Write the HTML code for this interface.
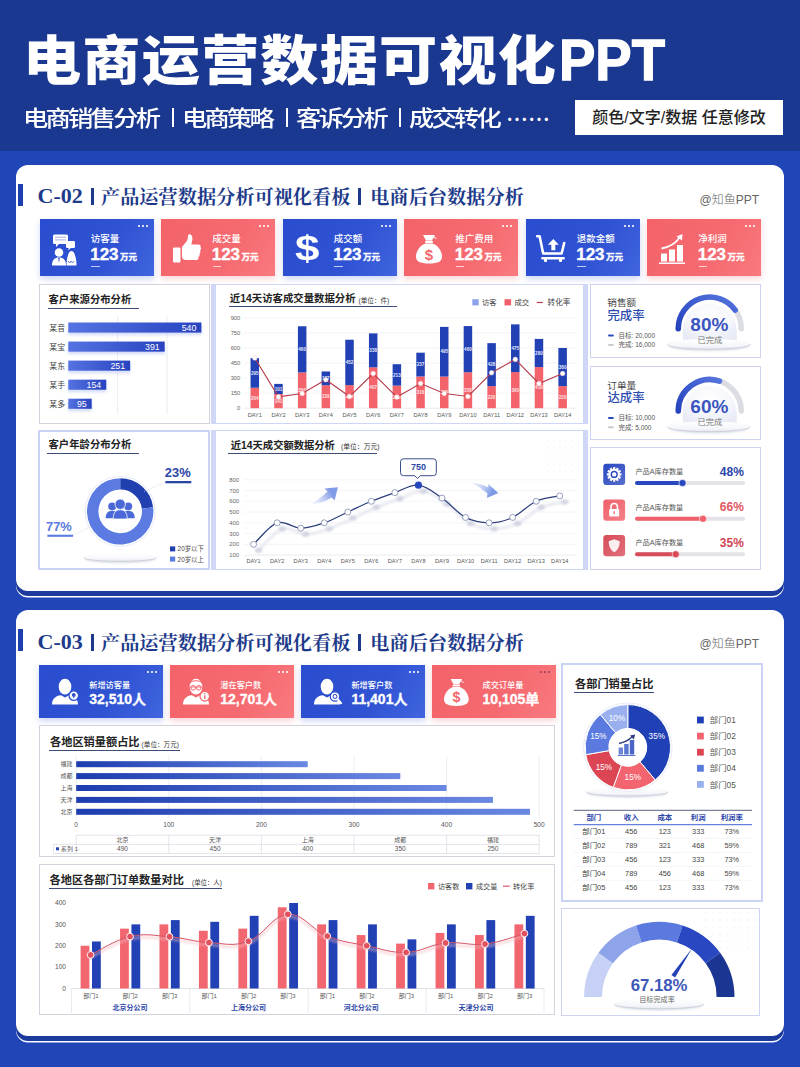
<!DOCTYPE html><html><head><meta charset="utf-8"><title>电商运营数据可视化PPT</title><style>
*{margin:0;padding:0;box-sizing:border-box}
html,body{width:800px;height:1067px;overflow:hidden;background:#1f45b7;font-family:"Liberation Sans","Noto Sans CJK SC",sans-serif}
.a{position:absolute}
#hdr{position:absolute;left:0;top:0;width:800px;height:151px;background:#1a3890}
#bg{position:absolute;left:0;top:151px;width:800px;height:916px;background:#1f45b7}
.t1{position:absolute;left:23px;top:35px;color:#fff;font-weight:900;font-size:53.4px;letter-spacing:1.05px;white-space:nowrap;line-height:1;transform:scaleX(1.09);transform-origin:0 0}
.t1p{position:absolute;left:559px;top:31px;color:#fff;font-weight:700;font-size:58px;letter-spacing:0px;transform:scaleX(0.94);transform-origin:0 0;-webkit-text-stroke:1.3px #fff;white-space:nowrap;line-height:1}
.t2{position:absolute;top:108.4px;color:#fff;font-size:22px;letter-spacing:-2.4px;white-space:nowrap;line-height:1;font-weight:500;transform:scaleX(1.15);transform-origin:0 0}
.tag{position:absolute;left:575px;top:100px;width:208px;height:35px;background:#fff;color:#222;font-size:16px;font-weight:500;line-height:35px;text-align:center;white-space:nowrap}
.card{position:absolute;left:16px;width:767.5px;background:#fff;border-radius:12px;box-shadow:0 5px 0 #1a3a9c,0 6.5px 0 #fff}
.bar{position:absolute;width:5px;background:#1e3fae}
.ttl{position:absolute;font-family:"Liberation Serif","Noto Serif CJK SC",serif;font-weight:700;font-size:19.2px;color:#1d3a8a;white-space:nowrap;line-height:1}
.wm{position:absolute;color:#666;font-size:12px;font-weight:300;white-space:nowrap;line-height:1}
.kpi{position:absolute;color:#fff;overflow:hidden}
.kb{background:linear-gradient(120deg,#2a4cce 0%,#3053d4 60%,#4065de 100%);box-shadow:0 3px 6px rgba(60,90,210,.25)}
.kr{background:linear-gradient(120deg,#f3636a 0%,#f56a70 60%,#f97a7f 100%);box-shadow:0 3px 6px rgba(240,90,100,.25)}
.dots{position:absolute;top:6px;right:6px;width:11px;height:2px;background:radial-gradient(circle,rgba(255,255,255,.8) 0.9px,transparent 1.1px) 0 0/4px 2px repeat-x}
.pn{position:absolute;background:#fff}
.dk .dots{background:radial-gradient(circle,rgba(110,40,90,.55) 0.9px,transparent 1.1px) 0 0/4px 2px repeat-x}
.pg{border:1px solid #d2d3dc}
.pw{border:solid #d0d7f6;border-width:1.5px 5px}
.pl{border:1.5px solid #cdd3f1}
.pl2{border:2.2px solid #cbd3f4}
.kl{color:#fff;font-size:9.5px;white-space:nowrap;line-height:1;font-weight:500}
.kn{color:#fff;font-size:17px;font-weight:700;white-space:nowrap;line-height:1;font-family:"Liberation Sans",sans-serif;-webkit-text-stroke:0.35px #fff}
.ku{font-size:8.5px;font-family:"Noto Sans CJK SC",sans-serif;margin-left:1.5px}
.kl2{color:#fff;font-size:8.2px;white-space:nowrap;line-height:1;font-weight:500}
.kn2{color:#fff;font-size:14px;font-weight:700;white-space:nowrap;line-height:1;-webkit-text-stroke:0.3px #fff}
.st{position:absolute;font-weight:700;color:#222;white-space:nowrap;line-height:1}
.ul{position:absolute;height:1px;background:#3d4b78}
</style></head><body>
<div id="hdr"><div class="t1">电商运营数据可视化</div><div class="t1p">PPT</div>
<div class="t2" style="left:22.9px">电商销售分析</div>
<div class="t2" style="left:181.8px">电商策略</div>
<div class="t2" style="left:295.6px">客诉分析</div>
<div class="t2" style="left:408.6px">成交转化</div>
<div class="a" style="left:171.5px;top:108px;width:2px;height:19px;background:#fff"></div>
<div class="a" style="left:285.5px;top:108px;width:2px;height:19px;background:#fff"></div>
<div class="a" style="left:398.5px;top:108px;width:2px;height:19px;background:#fff"></div>
<div class="t2" style="left:506px;transform:none;letter-spacing:0;font-size:22px;top:106px;font-family:'Noto Sans CJK SC',sans-serif">……</div>
<div class="tag">颜色/文字/数据 任意修改</div></div>
<div id="bg"></div>
<div class="card" style="top:164.5px;height:426px"></div>
<div class="bar" style="left:18px;top:183.5px;height:22.5px"></div>
<div class="ttl" style="left:37.5px;top:184.5px;font-family:'Liberation Serif',serif;font-size:22px">C-02</div>
<div class="a" style="left:90.6px;top:188px;width:3.2px;height:16.5px;background:#1d3a8a"></div>
<div class="ttl" style="left:101px;top:187.8px">产品运营数据分析可视化看板</div>
<div class="a" style="left:358.2px;top:188px;width:3px;height:16.5px;background:#1d3a8a"></div>
<div class="ttl" style="left:370.3px;top:187.8px">电商后台数据分析</div>
<div class="wm" style="left:699.5px;top:194px">@知鱼PPT</div>
<div class="kpi kb" style="left:39.5px;top:219.2px;width:114px;height:56.5px"><div class="dots"></div></div>
<svg class="a" style="left:51.5px;top:234.2px;overflow:visible" width="24" height="32" viewBox="0 0 24 32" ><rect x="1" y="0.5" width="15" height="9.5" rx="1.5" fill="#fff"/><path d="M4 9.5 L4 13 L7.5 9.5Z" fill="#fff"/><rect x="3" y="2.6" width="11" height="1.3" fill="#b8c4ee"/><rect x="3" y="5.2" width="11" height="1.3" fill="#b8c4ee"/><rect x="14" y="7" width="9" height="7" rx="1.2" fill="#fff"/><path d="M17 13.5 L16 16.5 L19.5 13.5Z" fill="#fff"/><circle cx="7" cy="18.5" r="4.3" fill="#fff"/><path d="M0 31.5 C0 26 2.5 23.5 7 23.5 C11.5 23.5 14 26 14 31.5Z" fill="#fff"/><path d="M6.2 24 L7 29 L7.8 24Z" fill="#2d4fd0"/><path d="M14.5 31.5 C14.5 27 15 24 16 21.5 C16.5 18.5 18 17 19.5 17 C21 17 22.5 18.5 23 21.5 C24 24 24.5 27 24.5 31.5Z" fill="#fff"/><path d="M16 27 L17.5 29 L19 27 L20.5 29 L22 27" stroke="#2d4fd0" stroke-width="0.7" fill="none"/></svg>
<div class="a kl" style="left:90.7px;top:234.0px">访客量</div>
<div class="a kn" style="left:90.2px;top:245.7px">123<span class="ku">万元</span></div>
<div class="a" style="left:91.25px;top:265.7px;width:8.5px;height:1px;background:rgba(255,255,255,.7)"></div>
<div class="kpi kr" style="left:161.0px;top:219.2px;width:114px;height:56.5px"><div class="dots"></div></div>
<svg class="a" style="left:173.0px;top:234.2px;overflow:visible" width="28" height="30" viewBox="0 0 28 30" ><rect x="0" y="13.5" width="7.5" height="15" rx="1" fill="#fff"/><path d="M9 13 L13.5 7.5 C14.5 6 15 4 15 2 C15 0.5 16.5 0 17.5 0.5 C19.5 1.5 19.8 4.5 19 7.5 L18.3 10.5 L25.5 10.5 C27.3 10.5 28 12 27.6 13.5 C28.3 14.5 28 16 27 16.7 C27.8 17.8 27.5 19.3 26.3 20 C27 21 26.6 22.6 25.3 23.1 C25.8 24.3 25.2 26 23.5 26 L13 26 C11 26 9 25 9 23Z" fill="#fff"/></svg>
<div class="a kl" style="left:212.2px;top:234.0px">成交量</div>
<div class="a kn" style="left:211.7px;top:245.7px">123<span class="ku">万元</span></div>
<div class="a" style="left:212.75px;top:265.7px;width:8.5px;height:1px;background:rgba(255,255,255,.7)"></div>
<div class="kpi kb" style="left:282.5px;top:219.2px;width:114px;height:56.5px"><div class="dots"></div></div>
<div class="a" style="left:295.1px;top:230.79999999999998px;font-family:Liberation Sans,sans-serif;font-weight:700;font-size:40px;color:#fff;line-height:1;transform:scale(1.1,0.86);transform-origin:0 0">$</div>
<div class="a kl" style="left:333.7px;top:234.0px">成交额</div>
<div class="a kn" style="left:333.2px;top:245.7px">123<span class="ku">万元</span></div>
<div class="a" style="left:334.25px;top:265.7px;width:8.5px;height:1px;background:rgba(255,255,255,.7)"></div>
<div class="kpi kr" style="left:404.0px;top:219.2px;width:114px;height:56.5px"><div class="dots"></div></div>
<svg class="a" style="left:416.0px;top:234.2px;overflow:visible" width="26.0" height="30.0" viewBox="0 0 26 30" ><path d="M7 1 L19 1 L16 6.5 L10 6.5Z" fill="#fff"/><path d="M16.5 2.5 C18.5 3 20 4 20.5 5" stroke="#fff" stroke-width="1" fill="none"/><rect x="9" y="6.8" width="8" height="2.2" rx="1" fill="#fff"/><path d="M9.5 9.5 C3 12 0 18 0 22.5 C0 27.5 4 29.5 13 29.5 C22 29.5 26 27.5 26 22.5 C26 18 23 12 16.5 9.5Z" fill="#fff"/><text x="13" y="25.5" text-anchor="middle" font-family="Liberation Sans,sans-serif" font-weight="700" font-size="15" fill="#f4676d">$</text></svg>
<div class="a kl" style="left:455.2px;top:234.0px">推广费用</div>
<div class="a kn" style="left:454.7px;top:245.7px">123<span class="ku">万元</span></div>
<div class="a" style="left:455.75px;top:265.7px;width:8.5px;height:1px;background:rgba(255,255,255,.7)"></div>
<div class="kpi kb" style="left:525.5px;top:219.2px;width:114px;height:56.5px"><div class="dots"></div></div>
<svg class="a" style="left:535.7px;top:233.7px;overflow:visible" width="30" height="30" viewBox="0 0 30 30" ><path d="M1.2,2.2 L3.6,2.2 L7.2,19.5 L25.6,19.5 L28.2,9" stroke="#fff" stroke-width="2.6" fill="none" stroke-linecap="round" stroke-linejoin="round"/><path d="M6.5,24.3 L27.5,24.3" stroke="#fff" stroke-width="2.6" stroke-linecap="round"/><rect x="8" y="24" width="3" height="4" rx="1" fill="#fff"/><rect x="23" y="24" width="3" height="4" rx="1" fill="#fff"/><path d="M17.3,5 L11.8,10.8 L15.3,10.8 L15.3,16.2 L19.3,16.2 L19.3,10.8 L22.8,10.8Z" fill="#fff"/></svg>
<div class="a kl" style="left:576.7px;top:234.0px">退款金额</div>
<div class="a kn" style="left:576.2px;top:245.7px">123<span class="ku">万元</span></div>
<div class="a" style="left:577.25px;top:265.7px;width:8.5px;height:1px;background:rgba(255,255,255,.7)"></div>
<div class="kpi kr" style="left:647.0px;top:219.2px;width:114px;height:56.5px"><div class="dots"></div></div>
<svg class="a" style="left:659.0px;top:234.2px;overflow:visible" width="26" height="30" viewBox="0 0 26 30" ><rect x="0" y="28.5" width="26" height="1.5" fill="#fff"/><rect x="2" y="19.5" width="6" height="8" fill="#fff"/><rect x="10" y="15.5" width="6" height="12" fill="#fff"/><rect x="18" y="11" width="6" height="16.5" fill="#fff"/><path d="M2.5 14.5 C11 13 17 9 21 3" stroke="#fff" stroke-width="1.8" fill="none"/><path d="M17.5 2.5 L23.5 0 L23 6.5Z" fill="#fff"/></svg>
<div class="a kl" style="left:698.2px;top:234.0px">净利润</div>
<div class="a kn" style="left:697.7px;top:245.7px">123<span class="ku">万元</span></div>
<div class="a" style="left:698.75px;top:265.7px;width:8.5px;height:1px;background:rgba(255,255,255,.7)"></div>
<div class="pn pg" style="left:38.5px;top:284px;width:171.1px;height:139.5px"></div>
<div class="pn pw" style="left:211px;top:283.5px;width:377px;height:140.5px"></div>
<div class="pn pl" style="left:589.75px;top:283.6px;width:171.25px;height:74.39999999999998px"></div>
<div class="pn pl" style="left:589.75px;top:366px;width:171.25px;height:74px"></div>
<div class="pn pl2" style="left:38px;top:429.5px;width:172px;height:140.5px"></div>
<div class="pn pw" style="left:211px;top:430px;width:377px;height:140px"></div>
<div class="pn pl" style="left:590px;top:447px;width:171px;height:123px"></div>
<div class="st" style="left:48.5px;top:294.8px;font-size:10.35px">客户来源分布分析</div>
<div class="ul" style="left:47.5px;top:308px;width:91.30000000000001px"></div>
<div class="st" style="left:229.8px;top:293.5px;font-size:10.4px">近14天访客成交量数据分析</div>
<div class="a" style="left:358.5px;top:297.63px;font-size:6.6px;color:#333;white-space:nowrap;line-height:1">(单位：件)</div>
<div class="ul" style="left:228.7px;top:306.3px;width:168.8px"></div>
<div class="st" style="left:48.5px;top:439.6px;font-size:10.35px">客户年龄分布分析</div>
<div class="ul" style="left:46.75px;top:453px;width:92.05000000000001px"></div>
<div class="st" style="left:230.8px;top:440.6px;font-size:10.3px">近14天成交额数据分析</div>
<div class="a" style="left:341px;top:444.44000000000005px;font-size:6.8px;color:#333;white-space:nowrap;line-height:1">(单位：万元)</div>
<div class="ul" style="left:228px;top:453.3px;width:149px"></div>
<div class="card" style="top:610px;height:425.5px"></div>
<div class="bar" style="left:18.4px;top:629px;height:22px"></div>
<div class="ttl" style="left:37.5px;top:630.5px;font-family:'Liberation Serif',serif;font-size:22px">C-03</div>
<div class="a" style="left:90.6px;top:634px;width:3.2px;height:16.5px;background:#1d3a8a"></div>
<div class="ttl" style="left:101px;top:633.8px">产品运营数据分析可视化看板</div>
<div class="a" style="left:358.2px;top:634px;width:3px;height:16.5px;background:#1d3a8a"></div>
<div class="ttl" style="left:370.3px;top:633.8px">电商后台数据分析</div>
<div class="wm" style="left:699.5px;top:638px">@知鱼PPT</div>
<div class="kpi kb" style="left:39.0px;top:664.6px;width:124px;height:53px"><div class="dots"></div></div>
<svg class="a" style="left:52.0px;top:679.2px;overflow:visible" width="27" height="26" viewBox="0 0 27 26" ><ellipse cx="13" cy="7.7" rx="6.3" ry="7.9" fill="#fff"/><path d="M0 25.5 C0 20 3.5 16.6 9 16.2 L13 18.6 L17 16.2 C22.5 16.6 26 20 26 25.5Z" fill="#fff"/><circle cx="21.8" cy="16.6" r="4.8" fill="#fff" stroke="#2d4fd0" stroke-width="1.3"/><circle cx="21.8" cy="15.9" r="1.9" fill="#2d4fd0"/><path d="M21 17 L21.8 20 L22.6 17Z" fill="#2d4fd0"/></svg>
<div class="a kl2" style="left:89.2px;top:681.5px">新增访客量</div>
<div class="a kn2" style="left:89.2px;top:691.6px">32,510人</div>
<div class="kpi kr" style="left:170.1px;top:664.6px;width:124px;height:53px"><div class="dots"></div></div>
<svg class="a" style="left:183.1px;top:679.2px;overflow:visible" width="27" height="26" viewBox="0 0 27 26" ><ellipse cx="13" cy="7.7" rx="6.3" ry="7.9" fill="#fff"/><path d="M0 25.5 C0 20 3.5 16.6 9 16.2 L13 18.6 L17 16.2 C22.5 16.6 26 20 26 25.5Z" fill="#fff"/><path d="M6.8 4.2 C8 1 18 1 19.2 4.2" stroke="#f4676d" stroke-width="1.1" fill="none"/><path d="M7 8 L19 8" stroke="#f4676d" stroke-width="0.9"/><circle cx="10.2" cy="8.8" r="2.3" fill="none" stroke="#f4676d" stroke-width="1"/><circle cx="15.8" cy="8.8" r="2.3" fill="none" stroke="#f4676d" stroke-width="1"/><circle cx="21.8" cy="17.2" r="4.8" fill="#fff" stroke="#f4676d" stroke-width="1.3"/><rect x="21.1" y="16.4" width="1.4" height="3.6" fill="#f4676d"/><circle cx="21.8" cy="14.8" r="0.8" fill="#f4676d"/></svg>
<div class="a kl2" style="left:220.3px;top:681.5px">潜在客户数</div>
<div class="a kn2" style="left:220.3px;top:691.6px">12,701人</div>
<div class="kpi kb" style="left:301.2px;top:664.6px;width:124px;height:53px"><div class="dots"></div></div>
<svg class="a" style="left:314.2px;top:679.2px;overflow:visible" width="27" height="26" viewBox="0 0 27 26" ><ellipse cx="13" cy="7.7" rx="6.3" ry="7.9" fill="#fff"/><path d="M0 25.5 C0 20 3.5 16.6 9 16.2 L13 18.6 L17 16.2 C22.5 16.6 26 20 26 25.5Z" fill="#fff"/><circle cx="21" cy="17.5" r="4.7" fill="#fff" stroke="#2d4fd0" stroke-width="1.3"/><circle cx="21" cy="17.5" r="2.4" fill="#2d4fd0"/><circle cx="21" cy="17.5" r="1.4" fill="#fff"/><path d="M24.2 21 L27 24.2" stroke="#fff" stroke-width="2.2" stroke-linecap="round"/></svg>
<div class="a kl2" style="left:351.4px;top:681.5px">新增客户数</div>
<div class="a kn2" style="left:351.4px;top:691.6px">11,401人</div>
<div class="kpi kr dk" style="left:432.29999999999995px;top:664.6px;width:124px;height:53px"><div class="dots"></div></div>
<svg class="a" style="left:443.79999999999995px;top:677.7px;overflow:visible" width="24.7" height="28.5" viewBox="0 0 26 30" ><path d="M7 1 L19 1 L16 6.5 L10 6.5Z" fill="#fff"/><path d="M16.5 2.5 C18.5 3 20 4 20.5 5" stroke="#fff" stroke-width="1" fill="none"/><rect x="9" y="6.8" width="8" height="2.2" rx="1" fill="#fff"/><path d="M9.5 9.5 C3 12 0 18 0 22.5 C0 27.5 4 29.5 13 29.5 C22 29.5 26 27.5 26 22.5 C26 18 23 12 16.5 9.5Z" fill="#fff"/><text x="13" y="25.5" text-anchor="middle" font-family="Liberation Sans,sans-serif" font-weight="700" font-size="15" fill="#f4676d">$</text></svg>
<div class="a kl2" style="left:482.49999999999994px;top:681.5px">成交订单量</div>
<div class="a kn2" style="left:482.49999999999994px;top:691.6px">10,105单</div>
<div class="pn pg" style="left:39px;top:725.2px;width:516.3px;height:131.79999999999995px"></div>
<div class="pn pg" style="left:39px;top:863.8px;width:516.3px;height:151.20000000000005px"></div>
<div class="pn pl2" style="left:560.5px;top:662.8px;width:202.10000000000002px;height:239.5px"></div>
<div class="pn pl" style="left:560.5px;top:907.9px;width:199.10000000000002px;height:108.10000000000002px"></div>
<div class="st" style="left:50px;top:737px;font-size:11.2px">各地区销量额占比</div>
<div class="a" style="left:141.6px;top:741.9300000000001px;font-size:6.6px;color:#333;white-space:nowrap;line-height:1">(单位：万元)</div>
<div class="ul" style="left:49px;top:750.3px;width:131px"></div>
<div class="st" style="left:49.6px;top:875px;font-size:11.2px">各地区各部门订单数量对比</div>
<div class="a" style="left:192px;top:880.12px;font-size:6.4px;color:#333;white-space:nowrap;line-height:1">(单位：人)</div>
<div class="ul" style="left:49px;top:888.3px;width:173px"></div>
<div class="st" style="left:575px;top:678.5px;font-size:11.2px">各部门销量占比</div>
<div class="ul" style="left:574px;top:692.3px;width:79.70000000000005px"></div>
<svg class="a" style="left:0;top:0" width="800" height="1067" viewBox="0 0 800 1067" font-family="Liberation Sans, Noto Sans CJK SC, sans-serif"><defs>
<linearGradient id="gbar1" x1="0" x2="1" y1="0" y2="0"><stop offset="0" stop-color="#5573e2"/><stop offset="1" stop-color="#2843c0"/></linearGradient>
<linearGradient id="garr1" gradientUnits="userSpaceOnUse" x1="312" y1="504" x2="331" y2="492"><stop offset="0" stop-color="#e3e9fb" stop-opacity="0.4"/><stop offset="1" stop-color="#7f9ae6"/></linearGradient>
<linearGradient id="garr2" gradientUnits="userSpaceOnUse" x1="471" y1="482" x2="492" y2="492"><stop offset="0" stop-color="#e3e9fb" stop-opacity="0.4"/><stop offset="1" stop-color="#7f9ae6"/></linearGradient>
<linearGradient id="ggauge" x1="0" x2="1" y1="1" y2="0"><stop offset="0" stop-color="#2443bd"/><stop offset="1" stop-color="#5573de"/></linearGradient>
<radialGradient id="gdome" cx="0.5" cy="0.35" r="0.65"><stop offset="0" stop-color="#ffffff"/><stop offset="0.6" stop-color="#f6f7fc"/><stop offset="1" stop-color="#e8ebf6"/></radialGradient>
<linearGradient id="gplat" x1="0" x2="0" y1="0" y2="1"><stop offset="0" stop-color="#ffffff"/><stop offset="0.7" stop-color="#f5f6fa"/><stop offset="1" stop-color="#e4e6ee"/></linearGradient>
<linearGradient id="gico" x1="0" x2="1" y1="0" y2="1"><stop offset="0" stop-color="#ffffff" stop-opacity="0"/><stop offset="1" stop-color="#ffffff" stop-opacity="0.6"/></linearGradient>
<filter id="blur1" x="-20%" y="-100%" width="140%" height="300%"><feGaussianBlur stdDeviation="1"/></filter>
<linearGradient id="gbar2" x1="0" x2="1" y1="0" y2="0"><stop offset="0" stop-color="#1d3cae"/><stop offset="1" stop-color="#6a88e2"/></linearGradient>
<filter id="blur2" x="-20%" y="-50%" width="140%" height="200%"><feGaussianBlur stdDeviation="1.5"/></filter>
<filter id="blur15" x="-10%" y="-50%" width="120%" height="200%"><feGaussianBlur stdDeviation="1.2"/></filter>
</defs><line x1="117.6" y1="316" x2="117.6" y2="414" stroke="#e6e7ee" stroke-width="0.8"/>
<line x1="167" y1="316" x2="167" y2="414" stroke="#e6e7ee" stroke-width="0.8"/>
<rect x="68.3" y="325.00" width="133.11" height="10" fill="#9fb0f0" opacity="0.45" filter="url(#blur2)"/>
<rect x="68.3" y="322.50" width="133.11" height="10.1" fill="url(#gbar1)"/>
<text x="49.30" y="330.80" font-size="7.9" fill="#444" text-anchor="start" font-weight="400" >某音</text>
<text x="196.41" y="330.90" font-size="8.8" fill="#fff" text-anchor="end" font-weight="400" >540</text>
<rect x="68.3" y="344.05" width="96.38" height="10" fill="#9fb0f0" opacity="0.45" filter="url(#blur2)"/>
<rect x="68.3" y="341.55" width="96.38" height="10.1" fill="url(#gbar1)"/>
<text x="49.30" y="349.85" font-size="7.9" fill="#444" text-anchor="start" font-weight="400" >某宝</text>
<text x="159.68" y="349.95" font-size="8.8" fill="#fff" text-anchor="end" font-weight="400" >391</text>
<rect x="68.3" y="363.10" width="61.87" height="10" fill="#9fb0f0" opacity="0.45" filter="url(#blur2)"/>
<rect x="68.3" y="360.60" width="61.87" height="10.1" fill="url(#gbar1)"/>
<text x="49.30" y="368.90" font-size="7.9" fill="#444" text-anchor="start" font-weight="400" >某东</text>
<text x="125.17" y="369.00" font-size="8.8" fill="#fff" text-anchor="end" font-weight="400" >251</text>
<rect x="68.3" y="382.15" width="37.96" height="10" fill="#9fb0f0" opacity="0.45" filter="url(#blur2)"/>
<rect x="68.3" y="379.65" width="37.96" height="10.1" fill="url(#gbar1)"/>
<text x="49.30" y="387.95" font-size="7.9" fill="#444" text-anchor="start" font-weight="400" >某手</text>
<text x="101.26" y="388.05" font-size="8.8" fill="#fff" text-anchor="end" font-weight="400" >154</text>
<rect x="68.3" y="401.20" width="23.42" height="10" fill="#9fb0f0" opacity="0.45" filter="url(#blur2)"/>
<rect x="68.3" y="398.70" width="23.42" height="10.1" fill="url(#gbar1)"/>
<text x="49.30" y="407.00" font-size="7.9" fill="#444" text-anchor="start" font-weight="400" >某多</text>
<text x="86.72" y="407.10" font-size="8.8" fill="#fff" text-anchor="end" font-weight="400" >95</text>
<text x="240.30" y="410.20" font-size="5.8" fill="#666" text-anchor="end" font-weight="400" >0</text>
<line x1="244" y1="393.14" x2="576" y2="393.14" stroke="#eeeff3" stroke-width="0.7"/>
<text x="240.30" y="395.14" font-size="5.8" fill="#666" text-anchor="end" font-weight="400" >150</text>
<line x1="244" y1="378.08" x2="576" y2="378.08" stroke="#eeeff3" stroke-width="0.7"/>
<text x="240.30" y="380.08" font-size="5.8" fill="#666" text-anchor="end" font-weight="400" >300</text>
<line x1="244" y1="363.02" x2="576" y2="363.02" stroke="#eeeff3" stroke-width="0.7"/>
<text x="240.30" y="365.02" font-size="5.8" fill="#666" text-anchor="end" font-weight="400" >450</text>
<line x1="244" y1="347.96" x2="576" y2="347.96" stroke="#eeeff3" stroke-width="0.7"/>
<text x="240.30" y="349.96" font-size="5.8" fill="#666" text-anchor="end" font-weight="400" >600</text>
<line x1="244" y1="332.90" x2="576" y2="332.90" stroke="#eeeff3" stroke-width="0.7"/>
<text x="240.30" y="334.90" font-size="5.8" fill="#666" text-anchor="end" font-weight="400" >750</text>
<line x1="244" y1="317.84" x2="576" y2="317.84" stroke="#eeeff3" stroke-width="0.7"/>
<text x="240.30" y="319.84" font-size="5.8" fill="#666" text-anchor="end" font-weight="400" >900</text>
<line x1="244" y1="408.2" x2="576" y2="408.2" stroke="#e2e3ea" stroke-width="0.7"/>
<rect x="250.55" y="387.72" width="8.5" height="20.48" fill="#f3636c"/>
<rect x="250.55" y="358.10" width="8.5" height="29.62" fill="#2141b4"/>
<text x="254.80" y="399.56" font-size="4.6" fill="#fde5e6" text-anchor="middle" font-weight="700" >204</text>
<text x="254.80" y="374.51" font-size="4.6" fill="#e3e8fb" text-anchor="middle" font-weight="700" >295</text>
<text x="254.80" y="416.80" font-size="5.6" fill="#555" text-anchor="middle" font-weight="400" >DAY1</text>
<rect x="274.23" y="394.04" width="8.5" height="14.16" fill="#f3636c"/>
<rect x="274.23" y="383.90" width="8.5" height="10.14" fill="#2141b4"/>
<text x="278.48" y="402.72" font-size="4.6" fill="#fde5e6" text-anchor="middle" font-weight="700" >141</text>
<text x="278.48" y="390.57" font-size="4.6" fill="#e3e8fb" text-anchor="middle" font-weight="700" >101</text>
<text x="278.48" y="416.80" font-size="5.6" fill="#555" text-anchor="middle" font-weight="400" >DAY2</text>
<rect x="297.91" y="372.46" width="8.5" height="35.74" fill="#f3636c"/>
<rect x="297.91" y="326.27" width="8.5" height="46.18" fill="#2141b4"/>
<text x="302.16" y="391.93" font-size="4.6" fill="#fde5e6" text-anchor="middle" font-weight="700" >356</text>
<text x="302.16" y="350.97" font-size="4.6" fill="#e3e8fb" text-anchor="middle" font-weight="700" >460</text>
<text x="302.16" y="416.80" font-size="5.6" fill="#555" text-anchor="middle" font-weight="400" >DAY3</text>
<rect x="321.59" y="385.21" width="8.5" height="22.99" fill="#f3636c"/>
<rect x="321.59" y="371.45" width="8.5" height="13.75" fill="#2141b4"/>
<text x="325.84" y="398.30" font-size="4.6" fill="#fde5e6" text-anchor="middle" font-weight="700" >229</text>
<text x="325.84" y="379.93" font-size="4.6" fill="#e3e8fb" text-anchor="middle" font-weight="700" >137</text>
<text x="325.84" y="416.80" font-size="5.6" fill="#555" text-anchor="middle" font-weight="400" >DAY4</text>
<rect x="345.27" y="385.11" width="8.5" height="23.09" fill="#f3636c"/>
<rect x="345.27" y="339.73" width="8.5" height="45.38" fill="#2141b4"/>
<text x="349.52" y="398.25" font-size="4.6" fill="#fde5e6" text-anchor="middle" font-weight="700" >230</text>
<text x="349.52" y="364.02" font-size="4.6" fill="#e3e8fb" text-anchor="middle" font-weight="700" >452</text>
<text x="349.52" y="416.80" font-size="5.6" fill="#555" text-anchor="middle" font-weight="400" >DAY5</text>
<rect x="368.95" y="367.34" width="8.5" height="40.86" fill="#f3636c"/>
<rect x="368.95" y="333.40" width="8.5" height="33.94" fill="#2141b4"/>
<text x="373.20" y="389.37" font-size="4.6" fill="#fde5e6" text-anchor="middle" font-weight="700" >407</text>
<text x="373.20" y="351.97" font-size="4.6" fill="#e3e8fb" text-anchor="middle" font-weight="700" >338</text>
<text x="373.20" y="416.80" font-size="5.6" fill="#555" text-anchor="middle" font-weight="400" >DAY6</text>
<rect x="392.63" y="385.61" width="8.5" height="22.59" fill="#f3636c"/>
<rect x="392.63" y="364.22" width="8.5" height="21.39" fill="#2141b4"/>
<text x="396.88" y="398.50" font-size="4.6" fill="#fde5e6" text-anchor="middle" font-weight="700" >225</text>
<text x="396.88" y="376.52" font-size="4.6" fill="#e3e8fb" text-anchor="middle" font-weight="700" >213</text>
<text x="396.88" y="416.80" font-size="5.6" fill="#555" text-anchor="middle" font-weight="400" >DAY7</text>
<rect x="416.31" y="376.47" width="8.5" height="31.73" fill="#f3636c"/>
<rect x="416.31" y="352.68" width="8.5" height="23.79" fill="#2141b4"/>
<text x="420.56" y="393.94" font-size="4.6" fill="#fde5e6" text-anchor="middle" font-weight="700" >316</text>
<text x="420.56" y="366.18" font-size="4.6" fill="#e3e8fb" text-anchor="middle" font-weight="700" >237</text>
<text x="420.56" y="416.80" font-size="5.6" fill="#555" text-anchor="middle" font-weight="400" >DAY8</text>
<rect x="439.99" y="376.57" width="8.5" height="31.63" fill="#f3636c"/>
<rect x="439.99" y="326.88" width="8.5" height="49.70" fill="#2141b4"/>
<text x="444.24" y="393.99" font-size="4.6" fill="#fde5e6" text-anchor="middle" font-weight="700" >315</text>
<text x="444.24" y="353.33" font-size="4.6" fill="#e3e8fb" text-anchor="middle" font-weight="700" >495</text>
<text x="444.24" y="416.80" font-size="5.6" fill="#555" text-anchor="middle" font-weight="400" >DAY9</text>
<rect x="463.67" y="372.26" width="8.5" height="35.94" fill="#f3636c"/>
<rect x="463.67" y="326.07" width="8.5" height="46.18" fill="#2141b4"/>
<text x="467.92" y="391.83" font-size="4.6" fill="#fde5e6" text-anchor="middle" font-weight="700" >358</text>
<text x="467.92" y="350.76" font-size="4.6" fill="#e3e8fb" text-anchor="middle" font-weight="700" >460</text>
<text x="467.92" y="416.80" font-size="5.6" fill="#555" text-anchor="middle" font-weight="400" >DAY10</text>
<rect x="487.35" y="386.11" width="8.5" height="22.09" fill="#f3636c"/>
<rect x="487.35" y="343.14" width="8.5" height="42.97" fill="#2141b4"/>
<text x="491.60" y="398.76" font-size="4.6" fill="#fde5e6" text-anchor="middle" font-weight="700" >220</text>
<text x="491.60" y="366.23" font-size="4.6" fill="#e3e8fb" text-anchor="middle" font-weight="700" >428</text>
<text x="491.60" y="416.80" font-size="5.6" fill="#555" text-anchor="middle" font-weight="400" >DAY11</text>
<rect x="511.03" y="372.06" width="8.5" height="36.14" fill="#f3636c"/>
<rect x="511.03" y="324.37" width="8.5" height="47.69" fill="#2141b4"/>
<text x="515.28" y="391.73" font-size="4.6" fill="#fde5e6" text-anchor="middle" font-weight="700" >360</text>
<text x="515.28" y="349.81" font-size="4.6" fill="#e3e8fb" text-anchor="middle" font-weight="700" >475</text>
<text x="515.28" y="416.80" font-size="5.6" fill="#555" text-anchor="middle" font-weight="400" >DAY12</text>
<rect x="534.71" y="367.04" width="8.5" height="41.16" fill="#f3636c"/>
<rect x="534.71" y="338.92" width="8.5" height="28.11" fill="#2141b4"/>
<text x="538.96" y="389.22" font-size="4.6" fill="#fde5e6" text-anchor="middle" font-weight="700" >410</text>
<text x="538.96" y="354.58" font-size="4.6" fill="#e3e8fb" text-anchor="middle" font-weight="700" >280</text>
<text x="538.96" y="416.80" font-size="5.6" fill="#555" text-anchor="middle" font-weight="400" >DAY13</text>
<rect x="558.39" y="386.11" width="8.5" height="22.09" fill="#f3636c"/>
<rect x="558.39" y="347.96" width="8.5" height="38.15" fill="#2141b4"/>
<text x="562.64" y="398.76" font-size="4.6" fill="#fde5e6" text-anchor="middle" font-weight="700" >220</text>
<text x="562.64" y="368.64" font-size="4.6" fill="#e3e8fb" text-anchor="middle" font-weight="700" >380</text>
<text x="562.64" y="416.80" font-size="5.6" fill="#555" text-anchor="middle" font-weight="400" >DAY14</text>
<path d="M254.80,358.00 L278.48,396.90 L302.16,393.50 L325.84,379.75 L349.52,396.50 L373.20,373.50 L396.88,397.10 L420.56,383.50 L444.24,393.50 L467.92,396.50 L491.60,372.75 L515.28,359.40 L538.96,383.50 L562.64,373.50" stroke="#b73b4d" stroke-width="1.1" fill="none"/>
<circle cx="254.80" cy="358.00" r="2.3" fill="#fff" stroke="#f3d0d4" stroke-width="0.6"/>
<circle cx="278.48" cy="396.90" r="2.3" fill="#fff" stroke="#f3d0d4" stroke-width="0.6"/>
<circle cx="302.16" cy="393.50" r="2.3" fill="#fff" stroke="#f3d0d4" stroke-width="0.6"/>
<circle cx="325.84" cy="379.75" r="2.3" fill="#fff" stroke="#f3d0d4" stroke-width="0.6"/>
<circle cx="349.52" cy="396.50" r="2.3" fill="#fff" stroke="#f3d0d4" stroke-width="0.6"/>
<circle cx="373.20" cy="373.50" r="2.3" fill="#fff" stroke="#f3d0d4" stroke-width="0.6"/>
<circle cx="396.88" cy="397.10" r="2.3" fill="#fff" stroke="#f3d0d4" stroke-width="0.6"/>
<circle cx="420.56" cy="383.50" r="2.3" fill="#fff" stroke="#f3d0d4" stroke-width="0.6"/>
<circle cx="444.24" cy="393.50" r="2.3" fill="#fff" stroke="#f3d0d4" stroke-width="0.6"/>
<circle cx="467.92" cy="396.50" r="2.3" fill="#fff" stroke="#f3d0d4" stroke-width="0.6"/>
<circle cx="491.60" cy="372.75" r="2.3" fill="#fff" stroke="#f3d0d4" stroke-width="0.6"/>
<circle cx="515.28" cy="359.40" r="2.3" fill="#fff" stroke="#f3d0d4" stroke-width="0.6"/>
<circle cx="538.96" cy="383.50" r="2.3" fill="#fff" stroke="#f3d0d4" stroke-width="0.6"/>
<circle cx="562.64" cy="373.50" r="2.3" fill="#fff" stroke="#f3d0d4" stroke-width="0.6"/>
<rect x="472.3" y="299.2" width="6.4" height="6.2" fill="#8fa3ea"/>
<text x="481.90" y="305.20" font-size="7.3" fill="#444" text-anchor="start" font-weight="400" >访客</text>
<rect x="504.5" y="299.2" width="6.6" height="6.2" fill="#f0606a"/>
<text x="514.50" y="305.20" font-size="7.3" fill="#444" text-anchor="start" font-weight="400" >成交</text>
<line x1="536.7" y1="302.5" x2="542.8" y2="302.5" stroke="#b73b4d" stroke-width="1.2"/>
<text x="547.60" y="305.00" font-size="7.6" fill="#444" text-anchor="start" font-weight="400" >转化率</text>
<line x1="244" y1="555.10" x2="576" y2="555.10" stroke="#e2e3ea" stroke-width="0.7"/>
<text x="239.00" y="557.10" font-size="5.8" fill="#666" text-anchor="end" font-weight="400" >100</text>
<line x1="244" y1="544.34" x2="576" y2="544.34" stroke="#f0f1f5" stroke-width="0.7"/>
<text x="239.00" y="546.34" font-size="5.8" fill="#666" text-anchor="end" font-weight="400" >200</text>
<line x1="244" y1="533.57" x2="576" y2="533.57" stroke="#f0f1f5" stroke-width="0.7"/>
<text x="239.00" y="535.57" font-size="5.8" fill="#666" text-anchor="end" font-weight="400" >300</text>
<line x1="244" y1="522.81" x2="576" y2="522.81" stroke="#f0f1f5" stroke-width="0.7"/>
<text x="239.00" y="524.81" font-size="5.8" fill="#666" text-anchor="end" font-weight="400" >400</text>
<line x1="244" y1="512.04" x2="576" y2="512.04" stroke="#f0f1f5" stroke-width="0.7"/>
<text x="239.00" y="514.04" font-size="5.8" fill="#666" text-anchor="end" font-weight="400" >500</text>
<line x1="244" y1="501.28" x2="576" y2="501.28" stroke="#f0f1f5" stroke-width="0.7"/>
<text x="239.00" y="503.28" font-size="5.8" fill="#666" text-anchor="end" font-weight="400" >600</text>
<line x1="244" y1="490.51" x2="576" y2="490.51" stroke="#f0f1f5" stroke-width="0.7"/>
<text x="239.00" y="492.51" font-size="5.8" fill="#666" text-anchor="end" font-weight="400" >700</text>
<line x1="244" y1="479.75" x2="576" y2="479.75" stroke="#f0f1f5" stroke-width="0.7"/>
<text x="239.00" y="481.75" font-size="5.8" fill="#666" text-anchor="end" font-weight="400" >800</text>
<text x="253.60" y="563.00" font-size="5.6" fill="#555" text-anchor="middle" font-weight="400" >DAY1</text>
<text x="277.15" y="563.00" font-size="5.6" fill="#555" text-anchor="middle" font-weight="400" >DAY2</text>
<text x="300.70" y="563.00" font-size="5.6" fill="#555" text-anchor="middle" font-weight="400" >DAY3</text>
<text x="324.25" y="563.00" font-size="5.6" fill="#555" text-anchor="middle" font-weight="400" >DAY4</text>
<text x="347.80" y="563.00" font-size="5.6" fill="#555" text-anchor="middle" font-weight="400" >DAY5</text>
<text x="371.35" y="563.00" font-size="5.6" fill="#555" text-anchor="middle" font-weight="400" >DAY6</text>
<text x="394.90" y="563.00" font-size="5.6" fill="#555" text-anchor="middle" font-weight="400" >DAY7</text>
<text x="418.45" y="563.00" font-size="5.6" fill="#555" text-anchor="middle" font-weight="400" >DAY8</text>
<text x="442.00" y="563.00" font-size="5.6" fill="#555" text-anchor="middle" font-weight="400" >DAY9</text>
<text x="465.55" y="563.00" font-size="5.6" fill="#555" text-anchor="middle" font-weight="400" >DAY10</text>
<text x="489.10" y="563.00" font-size="5.6" fill="#555" text-anchor="middle" font-weight="400" >DAY11</text>
<text x="512.65" y="563.00" font-size="5.6" fill="#555" text-anchor="middle" font-weight="400" >DAY12</text>
<text x="536.20" y="563.00" font-size="5.6" fill="#555" text-anchor="middle" font-weight="400" >DAY13</text>
<text x="559.75" y="563.00" font-size="5.6" fill="#555" text-anchor="middle" font-weight="400" >DAY14</text>
<path d="M258.60,550.34 C262.84,546.46 273.67,531.71 282.15,528.81 C290.63,525.90 297.22,534.19 305.70,534.19 C314.18,534.19 320.77,531.71 329.25,528.81 C337.73,525.90 344.32,521.92 352.80,518.04 C361.28,514.17 367.87,510.77 376.35,507.28 C384.83,503.79 391.42,501.57 399.90,498.67 C408.38,495.76 414.97,490.16 423.45,491.13 C431.93,492.10 438.52,498.24 447.00,504.05 C455.48,509.86 462.07,518.97 470.55,523.42 C479.03,527.88 485.62,528.81 494.10,528.81 C502.58,528.81 509.17,527.30 517.65,523.42 C526.13,519.55 532.72,511.15 541.20,507.28 C549.68,503.40 560.51,502.87 564.75,501.90" stroke="#e3e5ee" stroke-width="3" fill="none" filter="url(#blur15)" opacity="0.8"/>
<ellipse cx="258.60" cy="550.34" rx="3.6" ry="2.6" fill="#d3d6e2" filter="url(#blur1)"/>
<ellipse cx="282.15" cy="528.81" rx="3.6" ry="2.6" fill="#d3d6e2" filter="url(#blur1)"/>
<ellipse cx="305.70" cy="534.19" rx="3.6" ry="2.6" fill="#d3d6e2" filter="url(#blur1)"/>
<ellipse cx="329.25" cy="528.81" rx="3.6" ry="2.6" fill="#d3d6e2" filter="url(#blur1)"/>
<ellipse cx="352.80" cy="518.04" rx="3.6" ry="2.6" fill="#d3d6e2" filter="url(#blur1)"/>
<ellipse cx="376.35" cy="507.28" rx="3.6" ry="2.6" fill="#d3d6e2" filter="url(#blur1)"/>
<ellipse cx="399.90" cy="498.67" rx="3.6" ry="2.6" fill="#d3d6e2" filter="url(#blur1)"/>
<ellipse cx="423.45" cy="491.13" rx="3.6" ry="2.6" fill="#d3d6e2" filter="url(#blur1)"/>
<ellipse cx="447.00" cy="504.05" rx="3.6" ry="2.6" fill="#d3d6e2" filter="url(#blur1)"/>
<ellipse cx="470.55" cy="523.42" rx="3.6" ry="2.6" fill="#d3d6e2" filter="url(#blur1)"/>
<ellipse cx="494.10" cy="528.81" rx="3.6" ry="2.6" fill="#d3d6e2" filter="url(#blur1)"/>
<ellipse cx="517.65" cy="523.42" rx="3.6" ry="2.6" fill="#d3d6e2" filter="url(#blur1)"/>
<ellipse cx="541.20" cy="507.28" rx="3.6" ry="2.6" fill="#d3d6e2" filter="url(#blur1)"/>
<ellipse cx="564.75" cy="501.90" rx="3.6" ry="2.6" fill="#d3d6e2" filter="url(#blur1)"/>
<path d="M253.60,544.34 C257.84,540.46 268.67,525.71 277.15,522.81 C285.63,519.90 292.22,528.19 300.70,528.19 C309.18,528.19 315.77,525.71 324.25,522.81 C332.73,519.90 339.32,515.92 347.80,512.04 C356.28,508.17 362.87,504.77 371.35,501.28 C379.83,497.79 386.42,495.57 394.90,492.67 C403.38,489.76 409.97,484.16 418.45,485.13 C426.93,486.10 433.52,492.24 442.00,498.05 C450.48,503.86 457.07,512.97 465.55,517.42 C474.03,521.88 480.62,522.81 489.10,522.81 C497.58,522.81 504.17,521.30 512.65,517.42 C521.13,513.55 527.72,505.15 536.20,501.28 C544.68,497.40 555.51,496.87 559.75,495.90" stroke="#2d3f7c" stroke-width="1.25" fill="none"/>
<circle cx="253.60" cy="544.34" r="3" fill="#fff" stroke="#7d88b0" stroke-width="0.8"/>
<circle cx="277.15" cy="522.81" r="3" fill="#fff" stroke="#7d88b0" stroke-width="0.8"/>
<circle cx="300.70" cy="528.19" r="3" fill="#fff" stroke="#7d88b0" stroke-width="0.8"/>
<circle cx="324.25" cy="522.81" r="3" fill="#fff" stroke="#7d88b0" stroke-width="0.8"/>
<circle cx="347.80" cy="512.04" r="3" fill="#fff" stroke="#7d88b0" stroke-width="0.8"/>
<circle cx="371.35" cy="501.28" r="3" fill="#fff" stroke="#7d88b0" stroke-width="0.8"/>
<circle cx="394.90" cy="492.67" r="3" fill="#fff" stroke="#7d88b0" stroke-width="0.8"/>
<circle cx="418.45" cy="485.13" r="3.6" fill="#2447c0"/>
<circle cx="442.00" cy="498.05" r="3" fill="#fff" stroke="#7d88b0" stroke-width="0.8"/>
<circle cx="465.55" cy="517.42" r="3" fill="#fff" stroke="#7d88b0" stroke-width="0.8"/>
<circle cx="489.10" cy="522.81" r="3" fill="#fff" stroke="#7d88b0" stroke-width="0.8"/>
<circle cx="512.65" cy="517.42" r="3" fill="#fff" stroke="#7d88b0" stroke-width="0.8"/>
<circle cx="536.20" cy="501.28" r="3" fill="#fff" stroke="#7d88b0" stroke-width="0.8"/>
<circle cx="559.75" cy="495.90" r="3" fill="#fff" stroke="#7d88b0" stroke-width="0.8"/>
<circle cx="548" cy="441" r="0.6" fill="#e9ebf2"/>
<circle cx="554" cy="441" r="0.6" fill="#e9ebf2"/>
<circle cx="560" cy="441" r="0.6" fill="#e9ebf2"/>
<circle cx="566" cy="441" r="0.6" fill="#e9ebf2"/>
<circle cx="572" cy="441" r="0.6" fill="#e9ebf2"/>
<circle cx="578" cy="441" r="0.6" fill="#e9ebf2"/>
<circle cx="548" cy="447" r="0.6" fill="#e9ebf2"/>
<circle cx="554" cy="447" r="0.6" fill="#e9ebf2"/>
<circle cx="560" cy="447" r="0.6" fill="#e9ebf2"/>
<circle cx="566" cy="447" r="0.6" fill="#e9ebf2"/>
<circle cx="572" cy="447" r="0.6" fill="#e9ebf2"/>
<circle cx="578" cy="447" r="0.6" fill="#e9ebf2"/>
<circle cx="548" cy="453" r="0.6" fill="#e9ebf2"/>
<circle cx="554" cy="453" r="0.6" fill="#e9ebf2"/>
<circle cx="560" cy="453" r="0.6" fill="#e9ebf2"/>
<circle cx="566" cy="453" r="0.6" fill="#e9ebf2"/>
<circle cx="572" cy="453" r="0.6" fill="#e9ebf2"/>
<circle cx="578" cy="453" r="0.6" fill="#e9ebf2"/>
<circle cx="548" cy="459" r="0.6" fill="#e9ebf2"/>
<circle cx="554" cy="459" r="0.6" fill="#e9ebf2"/>
<circle cx="560" cy="459" r="0.6" fill="#e9ebf2"/>
<circle cx="566" cy="459" r="0.6" fill="#e9ebf2"/>
<circle cx="572" cy="459" r="0.6" fill="#e9ebf2"/>
<circle cx="578" cy="459" r="0.6" fill="#e9ebf2"/>
<circle cx="548" cy="465" r="0.6" fill="#e9ebf2"/>
<circle cx="554" cy="465" r="0.6" fill="#e9ebf2"/>
<circle cx="560" cy="465" r="0.6" fill="#e9ebf2"/>
<circle cx="566" cy="465" r="0.6" fill="#e9ebf2"/>
<circle cx="572" cy="465" r="0.6" fill="#e9ebf2"/>
<circle cx="578" cy="465" r="0.6" fill="#e9ebf2"/>
<circle cx="548" cy="471" r="0.6" fill="#e9ebf2"/>
<circle cx="554" cy="471" r="0.6" fill="#e9ebf2"/>
<circle cx="560" cy="471" r="0.6" fill="#e9ebf2"/>
<circle cx="566" cy="471" r="0.6" fill="#e9ebf2"/>
<circle cx="572" cy="471" r="0.6" fill="#e9ebf2"/>
<circle cx="578" cy="471" r="0.6" fill="#e9ebf2"/>
<path d="M403.5,458.8 H433.3 Q436.3,458.8 436.3,461.8 V472.7 Q436.3,475.7 433.3,475.7 H420.3 L417.5,478.6 L414.7,475.7 H403.5 Q400.5,475.7 400.5,472.7 V461.8 Q400.5,458.8 403.5,458.8Z" fill="#fff" stroke="#3b4c8c" stroke-width="1"/>
<text x="418.40" y="470.40" font-size="9" fill="#2a45a8" text-anchor="middle" font-weight="700" >750</text>
<path d="M311,504.2 C319,503.8 326.5,501 331.5,497.5 L334.6,500.6 L337.9,487.2 L324.4,488.4 L327.5,491.5 C322.5,496.5 317,500.5 311,504.2Z" fill="url(#garr1)"/>
<path d="M470.6,482.2 C477.5,483 483.5,485 488.4,487.6 L488.2,483.9 L498.4,493 L486.9,497.9 L487.4,493.6 C482.5,489 477,485.5 470.6,482.2Z" fill="url(#garr2)"/>
<circle cx="120.2" cy="511.4" r="35" fill="#fff" stroke="#dfe4f8" stroke-width="0.8"/>
<ellipse cx="120.25" cy="558.9" rx="35.60" ry="3.8" fill="#c3c7d4" filter="url(#blur1)" opacity="0.7"/>
<ellipse cx="120.25" cy="557.5" rx="36.7" ry="3.8" fill="url(#gplat)"/>
<path d="M83.55,557.5 A36.7,3.8 0 0 0 156.95,557.5" stroke="#c6c9d6" stroke-width="0.7" fill="none"/>
<path d="M120.20,478.20 A33.2,33.2 0 0 1 153.14,507.24 L141.83,508.67 A21.8,21.8 0 0 0 120.20,489.60Z" fill="#2140b0" />
<path d="M153.14,507.24 A33.2,33.2 0 1 1 120.20,478.20 L120.20,489.60 A21.8,21.8 0 1 0 141.83,508.67Z" fill="#5b7be2" />
<circle cx="120.2" cy="511.4" r="18.5" fill="none" stroke="#dde3f7" stroke-width="0.6" stroke-dasharray="1 1.5"/>
<circle cx="112.2" cy="506.4" r="4" fill="#4a68d8"/><circle cx="128.2" cy="506.4" r="4" fill="#4a68d8"/>
<path d="M105.7,518.1999999999999 C105.7,512.4 108.2,510.9 112.2,510.9 C116.2,510.9 118.7,512.4 118.7,518.1999999999999Z" fill="#4a68d8"/>
<path d="M121.7,518.1999999999999 C121.7,512.4 124.2,510.9 128.2,510.9 C132.2,510.9 134.7,512.4 134.7,518.1999999999999Z" fill="#4a68d8"/>
<circle cx="120.2" cy="504.2" r="5.2" fill="#4a68d8" stroke="#fff" stroke-width="0.8"/>
<path d="M113.2,519.0 C113.2,511.9 116.2,509.79999999999995 120.2,509.79999999999995 C124.2,509.79999999999995 127.2,511.9 127.2,519.0Z" fill="#4a68d8" stroke="#fff" stroke-width="0.8"/>
<path d="M165.4,482.2 L144,491.5" stroke="#cfd3df" stroke-width="0.7" stroke-dasharray="1.2 1"/>
<path d="M73,535.6 L91,526.2" stroke="#cfd3df" stroke-width="0.7" stroke-dasharray="1.2 1"/>
<text x="164.80" y="477.20" font-size="12.9" fill="#2a45a8" text-anchor="start" font-weight="700" >23%</text>
<rect x="165.4" y="481" width="25.9" height="2.3" fill="#2a45a8"/>
<text x="46.00" y="531.20" font-size="12.9" fill="#5b7be2" text-anchor="start" font-weight="700" >77%</text>
<rect x="47.4" y="534.7" width="25.6" height="2.1" fill="#5b7be2"/>
<rect x="170" y="546.4" width="5.2" height="5" fill="#2140b0"/>
<text x="177.60" y="551.40" font-size="6.4" fill="#444" text-anchor="start" font-weight="400" >20岁以下</text>
<rect x="170" y="556.6" width="5.2" height="5" fill="#5b7be2"/>
<text x="177.60" y="561.60" font-size="6.4" fill="#444" text-anchor="start" font-weight="400" >20岁以上</text>
<path d="M682.75,341.65 L682.75,330.65 A27,27 0 0 1 736.75,330.65 L736.75,341.65Z" fill="url(#gdome)"/>
<ellipse cx="708.9" cy="345.44999999999993" rx="40.45" ry="5.2" fill="#c3c7d4" filter="url(#blur1)" opacity="0.7"/>
<ellipse cx="708.9" cy="344.04999999999995" rx="41.7" ry="5.2" fill="url(#gplat)"/>
<path d="M667.1999999999999,344.04999999999995 A41.7,5.2 0 0 0 750.6,344.04999999999995" stroke="#c6c9d6" stroke-width="0.7" fill="none"/>
<path d="M678.25,328.65 A31.5,31.5 0 0 1 741.25,328.65" stroke="#dcdde2" stroke-width="5.5" fill="none" stroke-linecap="round"/>
<path d="M678.25,328.65 A31.5,31.5 0 0 1 735.23,310.13" stroke="url(#ggauge)" stroke-width="5.5" fill="none" stroke-linecap="round"/>
<text x="709.35" y="330.85" font-size="19" fill="#3b56c0" text-anchor="middle" font-weight="700" >80%</text>
<text x="709.85" y="343.05" font-size="8.2" fill="#777" text-anchor="middle" font-weight="400" >已完成</text>
<text x="607.30" y="306.20" font-size="9.6" fill="#444" text-anchor="start" font-weight="400" >销售额</text>
<text x="607.40" y="320.00" font-size="12.4" fill="#2a4bb0" text-anchor="start" font-weight="500" >完成率</text>
<rect x="608" y="334.60" width="5.8" height="2" rx="1" fill="#2d4bb8"/>
<text x="618.60" y="337.80" font-size="6.5" fill="#555" text-anchor="start" font-weight="400" >目标: 20,000</text>
<rect x="608" y="343.90" width="5.8" height="2" rx="1" fill="#c9c9cf"/>
<text x="618.60" y="347.10" font-size="6.5" fill="#555" text-anchor="start" font-weight="400" >完成: 16,000</text>
<path d="M682.75,424.05 L682.75,413.05 A27,27 0 0 1 736.75,413.05 L736.75,424.05Z" fill="url(#gdome)"/>
<ellipse cx="708.9" cy="427.84999999999997" rx="40.45" ry="5.2" fill="#c3c7d4" filter="url(#blur1)" opacity="0.7"/>
<ellipse cx="708.9" cy="426.45" rx="41.7" ry="5.2" fill="url(#gplat)"/>
<path d="M667.1999999999999,426.45 A41.7,5.2 0 0 0 750.6,426.45" stroke="#c6c9d6" stroke-width="0.7" fill="none"/>
<path d="M678.25,411.05 A31.5,31.5 0 0 1 741.25,411.05" stroke="#dcdde2" stroke-width="5.5" fill="none" stroke-linecap="round"/>
<path d="M678.25,411.05 A31.5,31.5 0 0 1 719.48,381.09" stroke="url(#ggauge)" stroke-width="5.5" fill="none" stroke-linecap="round"/>
<text x="709.35" y="413.25" font-size="19" fill="#3b56c0" text-anchor="middle" font-weight="700" >60%</text>
<text x="709.85" y="425.45" font-size="8.2" fill="#777" text-anchor="middle" font-weight="400" >已完成</text>
<text x="607.30" y="388.60" font-size="9.6" fill="#444" text-anchor="start" font-weight="400" >订单量</text>
<text x="607.40" y="402.40" font-size="12.4" fill="#2a4bb0" text-anchor="start" font-weight="500" >达成率</text>
<rect x="608" y="417.00" width="5.8" height="2" rx="1" fill="#2d4bb8"/>
<text x="618.60" y="420.20" font-size="6.5" fill="#555" text-anchor="start" font-weight="400" >目标: 10,000</text>
<rect x="608" y="426.30" width="5.8" height="2" rx="1" fill="#c9c9cf"/>
<text x="618.60" y="429.50" font-size="6.5" fill="#555" text-anchor="start" font-weight="400" >完成: 5,000</text>
<rect x="603.3" y="463.75" width="21.8" height="21.3" rx="3" fill="#2a48c0"/>
<rect x="603.3" y="463.75" width="21.8" height="21.3" rx="3" fill="url(#gico)" opacity="0.35"/>
<rect x="613.10" y="467.10" width="2.2" height="3" fill="#fff" transform="rotate(0 614.2 474.4)"/><rect x="613.10" y="467.10" width="2.2" height="3" fill="#fff" transform="rotate(30 614.2 474.4)"/><rect x="613.10" y="467.10" width="2.2" height="3" fill="#fff" transform="rotate(60 614.2 474.4)"/><rect x="613.10" y="467.10" width="2.2" height="3" fill="#fff" transform="rotate(90 614.2 474.4)"/><rect x="613.10" y="467.10" width="2.2" height="3" fill="#fff" transform="rotate(120 614.2 474.4)"/><rect x="613.10" y="467.10" width="2.2" height="3" fill="#fff" transform="rotate(150 614.2 474.4)"/><rect x="613.10" y="467.10" width="2.2" height="3" fill="#fff" transform="rotate(180 614.2 474.4)"/><rect x="613.10" y="467.10" width="2.2" height="3" fill="#fff" transform="rotate(210 614.2 474.4)"/><rect x="613.10" y="467.10" width="2.2" height="3" fill="#fff" transform="rotate(240 614.2 474.4)"/><rect x="613.10" y="467.10" width="2.2" height="3" fill="#fff" transform="rotate(270 614.2 474.4)"/><rect x="613.10" y="467.10" width="2.2" height="3" fill="#fff" transform="rotate(300 614.2 474.4)"/><rect x="613.10" y="467.10" width="2.2" height="3" fill="#fff" transform="rotate(330 614.2 474.4)"/><circle cx="614.2" cy="474.4" r="5.6" fill="#fff"/><circle cx="614.2" cy="474.4" r="3.6" fill="#2a48c0"/><circle cx="614.2" cy="474.4" r="2.2" fill="#fff"/>
<text x="635.40" y="474.05" font-size="7.2" fill="#555" text-anchor="start" font-weight="400" >产品A库存数量</text>
<text x="743.90" y="475.55" font-size="12" fill="#2a45a8" text-anchor="end" font-weight="700" >48%</text>
<rect x="635" y="481.00" width="110" height="4" rx="2" fill="#e3e3e8"/>
<rect x="635" y="481.00" width="47.5" height="4" rx="2" fill="#2a48c0"/>
<circle cx="682.5" cy="483.0" r="3.6" fill="#2a48c0" stroke="#fff" stroke-width="0.6"/>
<rect x="603.3" y="499.5" width="21.8" height="21.3" rx="3" fill="#f0606a"/>
<rect x="603.3" y="499.5" width="21.8" height="21.3" rx="3" fill="url(#gico)" opacity="0.35"/>
<path d="M611.0,509.15 V506.65 A3.2,3.2 0 0 1 617.4000000000001,506.65 V509.15" stroke="#fff" stroke-width="1.5" fill="none"/>
<rect x="609.2" y="508.95" width="10" height="7.5" rx="1" fill="#fff"/><rect x="613.6" y="511.15" width="1.2" height="3" fill="#f0606a"/>
<text x="635.40" y="509.80" font-size="7.2" fill="#555" text-anchor="start" font-weight="400" >产品A库存数量</text>
<text x="743.90" y="511.30" font-size="12" fill="#e05863" text-anchor="end" font-weight="700" >66%</text>
<rect x="635" y="516.75" width="110" height="4" rx="2" fill="#e3e3e8"/>
<rect x="635" y="516.75" width="68" height="4" rx="2" fill="#f0606a"/>
<circle cx="703" cy="518.75" r="3.6" fill="#f0606a" stroke="#fff" stroke-width="0.6"/>
<rect x="603.3" y="535" width="21.8" height="21.3" rx="3" fill="#d84b59"/>
<rect x="603.3" y="535" width="21.8" height="21.3" rx="3" fill="url(#gico)" opacity="0.35"/>
<path d="M614.2,539.15 L619.7,541.15 C619.7,546.65 617.7,550.15 614.2,552.15 C610.7,550.15 608.7,546.65 608.7,541.15Z" fill="#fff" opacity="0.9"/>
<text x="635.40" y="545.30" font-size="7.2" fill="#555" text-anchor="start" font-weight="400" >产品A库存数量</text>
<text x="743.90" y="546.80" font-size="12" fill="#cf4354" text-anchor="end" font-weight="700" >35%</text>
<rect x="635" y="552.25" width="110" height="4" rx="2" fill="#e3e3e8"/>
<rect x="635" y="552.25" width="40.75" height="4" rx="2" fill="#d84b59"/>
<circle cx="675.75" cy="554.25" r="3.6" fill="#d84b59" stroke="#fff" stroke-width="0.6"/>
<line x1="76.20" y1="756" x2="76.20" y2="818" stroke="#e6e7ee" stroke-width="0.7"/>
<text x="76.20" y="827.00" font-size="6.6" fill="#555" text-anchor="middle" font-weight="400" >0</text>
<line x1="168.80" y1="756" x2="168.80" y2="818" stroke="#e6e7ee" stroke-width="0.7"/>
<text x="168.80" y="827.00" font-size="6.6" fill="#555" text-anchor="middle" font-weight="400" >100</text>
<line x1="261.40" y1="756" x2="261.40" y2="818" stroke="#e6e7ee" stroke-width="0.7"/>
<text x="261.40" y="827.00" font-size="6.6" fill="#555" text-anchor="middle" font-weight="400" >200</text>
<line x1="354.00" y1="756" x2="354.00" y2="818" stroke="#e6e7ee" stroke-width="0.7"/>
<text x="354.00" y="827.00" font-size="6.6" fill="#555" text-anchor="middle" font-weight="400" >300</text>
<line x1="446.60" y1="756" x2="446.60" y2="818" stroke="#e6e7ee" stroke-width="0.7"/>
<text x="446.60" y="827.00" font-size="6.6" fill="#555" text-anchor="middle" font-weight="400" >400</text>
<line x1="539.20" y1="756" x2="539.20" y2="818" stroke="#e6e7ee" stroke-width="0.7"/>
<text x="539.20" y="827.00" font-size="6.6" fill="#555" text-anchor="middle" font-weight="400" >500</text>
<rect x="76.2" y="761.20" width="231.50" height="6" fill="url(#gbar2)"/>
<text x="72.60" y="766.40" font-size="6" fill="#555" text-anchor="end" font-weight="400" >福建</text>
<rect x="76.2" y="773.10" width="324.10" height="6" fill="url(#gbar2)"/>
<text x="72.60" y="778.30" font-size="6" fill="#555" text-anchor="end" font-weight="400" >成都</text>
<rect x="76.2" y="785.00" width="370.40" height="6" fill="url(#gbar2)"/>
<text x="72.60" y="790.20" font-size="6" fill="#555" text-anchor="end" font-weight="400" >上海</text>
<rect x="76.2" y="796.90" width="416.70" height="6" fill="url(#gbar2)"/>
<text x="72.60" y="802.10" font-size="6" fill="#555" text-anchor="end" font-weight="400" >天津</text>
<rect x="76.2" y="808.80" width="453.74" height="6" fill="url(#gbar2)"/>
<text x="72.60" y="814.00" font-size="6" fill="#555" text-anchor="end" font-weight="400" >北京</text>
<path d="M76.2,835.3 H539.2 M53.5,844.4 H539.2 M53.5,853.5 H539.2 M53.5,844.4 V853.5" stroke="#d9dae2" stroke-width="0.7" fill="none"/>
<line x1="76.20" y1="835.3" x2="76.20" y2="853.5" stroke="#d9dae2" stroke-width="0.7"/>
<line x1="168.80" y1="835.3" x2="168.80" y2="853.5" stroke="#d9dae2" stroke-width="0.7"/>
<line x1="261.40" y1="835.3" x2="261.40" y2="853.5" stroke="#d9dae2" stroke-width="0.7"/>
<line x1="354.00" y1="835.3" x2="354.00" y2="853.5" stroke="#d9dae2" stroke-width="0.7"/>
<line x1="446.60" y1="835.3" x2="446.60" y2="853.5" stroke="#d9dae2" stroke-width="0.7"/>
<line x1="539.20" y1="835.3" x2="539.20" y2="853.5" stroke="#d9dae2" stroke-width="0.7"/>
<text x="122.50" y="842.00" font-size="6" fill="#555" text-anchor="middle" font-weight="400" >北京</text>
<text x="122.50" y="851.20" font-size="6.6" fill="#555" text-anchor="middle" font-weight="400" >490</text>
<text x="215.10" y="842.00" font-size="6" fill="#555" text-anchor="middle" font-weight="400" >天津</text>
<text x="215.10" y="851.20" font-size="6.6" fill="#555" text-anchor="middle" font-weight="400" >450</text>
<text x="307.70" y="842.00" font-size="6" fill="#555" text-anchor="middle" font-weight="400" >上海</text>
<text x="307.70" y="851.20" font-size="6.6" fill="#555" text-anchor="middle" font-weight="400" >400</text>
<text x="400.30" y="842.00" font-size="6" fill="#555" text-anchor="middle" font-weight="400" >成都</text>
<text x="400.30" y="851.20" font-size="6.6" fill="#555" text-anchor="middle" font-weight="400" >350</text>
<text x="492.90" y="842.00" font-size="6" fill="#555" text-anchor="middle" font-weight="400" >福建</text>
<text x="492.90" y="851.20" font-size="6.6" fill="#555" text-anchor="middle" font-weight="400" >250</text>
<rect x="56" y="847.3" width="3" height="3" fill="#2a45b0"/>
<text x="61.00" y="851.20" font-size="6" fill="#555" text-anchor="start" font-weight="400" >系列 1</text>
<text x="66.00" y="990.70" font-size="6.6" fill="#555" text-anchor="end" font-weight="400" >0</text>
<text x="66.00" y="969.33" font-size="6.6" fill="#555" text-anchor="end" font-weight="400" >100</text>
<text x="66.00" y="947.95" font-size="6.6" fill="#555" text-anchor="end" font-weight="400" >200</text>
<text x="66.00" y="926.58" font-size="6.6" fill="#555" text-anchor="end" font-weight="400" >300</text>
<text x="66.00" y="905.20" font-size="6.6" fill="#555" text-anchor="end" font-weight="400" >400</text>
<line x1="71.5" y1="988.5" x2="544" y2="988.5" stroke="#d9dae2" stroke-width="0.8"/>
<line x1="71.5" y1="988.5" x2="71.5" y2="1013" stroke="#e0e1e8" stroke-width="0.7"/>
<line x1="189.8" y1="988.5" x2="189.8" y2="1013" stroke="#e0e1e8" stroke-width="0.7"/>
<line x1="308.2" y1="988.5" x2="308.2" y2="1013" stroke="#e0e1e8" stroke-width="0.7"/>
<line x1="426" y1="988.5" x2="426" y2="1013" stroke="#e0e1e8" stroke-width="0.7"/>
<line x1="544" y1="988.5" x2="544" y2="1013" stroke="#e0e1e8" stroke-width="0.7"/>
<rect x="80.60" y="945.75" width="8.8" height="42.75" fill="#f26670"/>
<rect x="92.00" y="941.48" width="8.8" height="47.02" fill="#2141b4"/>
<text x="90.80" y="997.60" font-size="6" fill="#555" text-anchor="middle" font-weight="400" >部门1</text>
<rect x="120.04" y="928.65" width="8.8" height="59.85" fill="#f26670"/>
<rect x="131.44" y="924.38" width="8.8" height="64.12" fill="#2141b4"/>
<text x="130.24" y="997.60" font-size="6" fill="#555" text-anchor="middle" font-weight="400" >部门2</text>
<rect x="159.48" y="924.38" width="8.8" height="64.12" fill="#f26670"/>
<rect x="170.88" y="920.10" width="8.8" height="68.40" fill="#2141b4"/>
<text x="169.68" y="997.60" font-size="6" fill="#555" text-anchor="middle" font-weight="400" >部门3</text>
<rect x="198.92" y="930.79" width="8.8" height="57.71" fill="#f26670"/>
<rect x="210.32" y="921.81" width="8.8" height="66.69" fill="#2141b4"/>
<text x="209.12" y="997.60" font-size="6" fill="#555" text-anchor="middle" font-weight="400" >部门1</text>
<rect x="238.36" y="928.65" width="8.8" height="59.85" fill="#f26670"/>
<rect x="249.76" y="915.83" width="8.8" height="72.67" fill="#2141b4"/>
<text x="248.56" y="997.60" font-size="6" fill="#555" text-anchor="middle" font-weight="400" >部门2</text>
<rect x="277.80" y="907.27" width="8.8" height="81.22" fill="#f26670"/>
<rect x="289.20" y="903.00" width="8.8" height="85.50" fill="#2141b4"/>
<text x="288.00" y="997.60" font-size="6" fill="#555" text-anchor="middle" font-weight="400" >部门3</text>
<rect x="317.24" y="924.38" width="8.8" height="64.12" fill="#f26670"/>
<rect x="328.64" y="920.10" width="8.8" height="68.40" fill="#2141b4"/>
<text x="327.44" y="997.60" font-size="6" fill="#555" text-anchor="middle" font-weight="400" >部门1</text>
<rect x="356.68" y="935.06" width="8.8" height="53.44" fill="#f26670"/>
<rect x="368.08" y="924.38" width="8.8" height="64.12" fill="#2141b4"/>
<text x="366.88" y="997.60" font-size="6" fill="#555" text-anchor="middle" font-weight="400" >部门2</text>
<rect x="396.12" y="943.61" width="8.8" height="44.89" fill="#f26670"/>
<rect x="407.52" y="939.34" width="8.8" height="49.16" fill="#2141b4"/>
<text x="406.32" y="997.60" font-size="6" fill="#555" text-anchor="middle" font-weight="400" >部门3</text>
<rect x="435.56" y="932.92" width="8.8" height="55.57" fill="#f26670"/>
<rect x="446.96" y="924.38" width="8.8" height="64.12" fill="#2141b4"/>
<text x="445.76" y="997.60" font-size="6" fill="#555" text-anchor="middle" font-weight="400" >部门1</text>
<rect x="475.00" y="935.06" width="8.8" height="53.44" fill="#f26670"/>
<rect x="486.40" y="920.10" width="8.8" height="68.40" fill="#2141b4"/>
<text x="485.20" y="997.60" font-size="6" fill="#555" text-anchor="middle" font-weight="400" >部门2</text>
<rect x="514.44" y="924.38" width="8.8" height="64.12" fill="#f26670"/>
<rect x="525.84" y="915.83" width="8.8" height="72.67" fill="#2141b4"/>
<text x="524.64" y="997.60" font-size="6" fill="#555" text-anchor="middle" font-weight="400" >部门3</text>
<path d="M90.60,957.44 C98.49,953.76 114.26,942.69 130.04,939.06 C145.82,935.43 153.70,938.08 169.48,939.27 C185.26,940.47 193.14,944.15 208.92,945.04 C224.70,945.94 232.58,949.40 248.36,943.76 C264.14,938.12 272.02,917.85 287.80,916.83 C303.58,915.80 311.46,932.35 327.24,938.63 C343.02,944.92 350.90,945.00 366.68,948.25 C382.46,951.50 390.34,955.43 406.12,954.88 C421.90,954.32 429.78,947.14 445.56,945.47 C461.34,943.80 469.22,948.42 485.00,946.54 C500.78,944.66 516.55,938.16 524.44,936.07" stroke="#f5b9c0" stroke-width="3" fill="none" filter="url(#blur15)" opacity="0.45"/>
<path d="M90.60,954.94 C98.49,951.26 114.26,940.19 130.04,936.56 C145.82,932.93 153.70,935.58 169.48,936.77 C185.26,937.97 193.14,941.65 208.92,942.54 C224.70,943.44 232.58,946.90 248.36,941.26 C264.14,935.62 272.02,915.35 287.80,914.33 C303.58,913.30 311.46,929.85 327.24,936.13 C343.02,942.42 350.90,942.50 366.68,945.75 C382.46,949.00 390.34,952.93 406.12,952.38 C421.90,951.82 429.78,944.64 445.56,942.97 C461.34,941.30 469.22,945.92 485.00,944.04 C500.78,942.16 516.55,935.66 524.44,933.57" stroke="#d65566" stroke-width="1" fill="none"/>
<circle cx="90.60" cy="954.94" r="3.4" fill="#e2515f" stroke="#fff" stroke-width="0.9"/>
<circle cx="130.04" cy="936.56" r="3.4" fill="#e2515f" stroke="#fff" stroke-width="0.9"/>
<circle cx="169.48" cy="936.77" r="3.4" fill="#e2515f" stroke="#fff" stroke-width="0.9"/>
<circle cx="208.92" cy="942.54" r="3.4" fill="#e2515f" stroke="#fff" stroke-width="0.9"/>
<circle cx="248.36" cy="941.26" r="3.4" fill="#e2515f" stroke="#fff" stroke-width="0.9"/>
<circle cx="287.80" cy="914.33" r="3.4" fill="#e2515f" stroke="#fff" stroke-width="0.9"/>
<circle cx="327.24" cy="936.13" r="3.4" fill="#e2515f" stroke="#fff" stroke-width="0.9"/>
<circle cx="366.68" cy="945.75" r="3.4" fill="#e2515f" stroke="#fff" stroke-width="0.9"/>
<circle cx="406.12" cy="952.38" r="3.4" fill="#e2515f" stroke="#fff" stroke-width="0.9"/>
<circle cx="445.56" cy="942.97" r="3.4" fill="#e2515f" stroke="#fff" stroke-width="0.9"/>
<circle cx="485.00" cy="944.04" r="3.4" fill="#e2515f" stroke="#fff" stroke-width="0.9"/>
<circle cx="524.44" cy="933.57" r="3.4" fill="#e2515f" stroke="#fff" stroke-width="0.9"/>
<text x="130.00" y="1010.00" font-size="7" fill="#2a45a8" text-anchor="middle" font-weight="700" >北京分公司</text>
<text x="248.50" y="1010.00" font-size="7" fill="#2a45a8" text-anchor="middle" font-weight="700" >上海分公司</text>
<text x="361.30" y="1010.00" font-size="7" fill="#2a45a8" text-anchor="middle" font-weight="700" >河北分公司</text>
<text x="476.00" y="1010.00" font-size="7" fill="#2a45a8" text-anchor="middle" font-weight="700" >天津分公司</text>
<rect x="428" y="883" width="6.4" height="6.4" fill="#f26670"/>
<text x="438.00" y="889.00" font-size="7.1" fill="#444" text-anchor="start" font-weight="400" >访客数</text>
<rect x="466" y="883" width="6.4" height="6.4" fill="#2141b4"/>
<text x="476.00" y="889.00" font-size="7.1" fill="#444" text-anchor="start" font-weight="400" >成交量</text>
<line x1="503" y1="886.2" x2="509.6" y2="886.2" stroke="#d65566" stroke-width="1.2"/>
<text x="513.00" y="889.00" font-size="7.1" fill="#444" text-anchor="start" font-weight="400" >转化率</text>
<ellipse cx="627.25" cy="793.0" rx="40.06" ry="4.4" fill="#c3c7d4" filter="url(#blur1)" opacity="0.7"/>
<ellipse cx="627.25" cy="791.6" rx="41.3" ry="4.4" fill="url(#gplat)"/>
<path d="M585.95,791.6 A41.3,4.4 0 0 0 668.55,791.6" stroke="#c6c9d6" stroke-width="0.7" fill="none"/>
<circle cx="627.8" cy="747.3" r="44.3" fill="#fff" stroke="#e3e7f7" stroke-width="0.8"/>
<path d="M627.80,704.60 A42.7,42.7 0 0 1 655.25,780.01 L639.95,761.78 A18.9,18.9 0 0 0 627.80,728.40Z" fill="#2040b5" stroke="#fff" stroke-width="1"/>
<path d="M655.25,780.01 A42.7,42.7 0 0 1 613.20,787.42 L621.34,765.06 A18.9,18.9 0 0 0 639.95,761.78Z" fill="#f26470" stroke="#fff" stroke-width="1"/>
<path d="M613.20,787.42 A42.7,42.7 0 0 1 585.75,754.71 L609.19,750.58 A18.9,18.9 0 0 0 621.34,765.06Z" fill="#dc4654" stroke="#fff" stroke-width="1"/>
<path d="M585.75,754.71 A42.7,42.7 0 0 1 600.35,714.59 L615.65,732.82 A18.9,18.9 0 0 0 609.19,750.58Z" fill="#5a7ae0" stroke="#fff" stroke-width="1"/>
<path d="M600.35,714.59 A42.7,42.7 0 0 1 627.80,704.60 L627.80,728.40 A18.9,18.9 0 0 0 615.65,732.82Z" fill="#9aafee" stroke="#fff" stroke-width="1"/>
<circle cx="627.8" cy="747.3" r="18.9" fill="#fff"/>
<text x="656.80" y="739.20" font-size="8.2" fill="#fff" text-anchor="middle" font-weight="500" >35%</text>
<text x="632.80" y="780.40" font-size="8.2" fill="#fff" text-anchor="middle" font-weight="500" >15%</text>
<text x="603.90" y="770.10" font-size="8.2" fill="#fff" text-anchor="middle" font-weight="500" >15%</text>
<text x="598.40" y="739.20" font-size="8.2" fill="#fff" text-anchor="middle" font-weight="500" >15%</text>
<text x="617.00" y="720.60" font-size="8.2" fill="#fff" text-anchor="middle" font-weight="500" >10%</text>
<rect x="618.6" y="747.5" width="4.4" height="7" fill="#6f86d8"/><rect x="624.2" y="744" width="4.4" height="10.5" fill="#5a74d2"/><rect x="629.8" y="740" width="4.4" height="14.5" fill="#4a64c8"/>
<rect x="617.8" y="755" width="17.6" height="0.9" fill="#4a64c8"/>
<path d="M619,743.5 C624,742.5 629,740 632.5,736.5" stroke="#2c3e80" stroke-width="1.3" fill="none"/><path d="M630,735.6 L635.2,734.5 L633.8,739.5Z" fill="#2c3e80"/>
<rect x="697" y="716.60" width="6.8" height="6.8" fill="#2040b5"/>
<text x="709.80" y="723.10" font-size="8.4" fill="#555" text-anchor="start" font-weight="400" >部门01</text>
<rect x="697" y="732.70" width="6.8" height="6.8" fill="#f26470"/>
<text x="709.80" y="739.20" font-size="8.4" fill="#555" text-anchor="start" font-weight="400" >部门02</text>
<rect x="697" y="748.80" width="6.8" height="6.8" fill="#dc4654"/>
<text x="709.80" y="755.30" font-size="8.4" fill="#555" text-anchor="start" font-weight="400" >部门03</text>
<rect x="697" y="764.90" width="6.8" height="6.8" fill="#5a7ae0"/>
<text x="709.80" y="771.40" font-size="8.4" fill="#555" text-anchor="start" font-weight="400" >部门04</text>
<rect x="697" y="781.00" width="6.8" height="6.8" fill="#9aafee"/>
<text x="709.80" y="787.50" font-size="8.4" fill="#555" text-anchor="start" font-weight="400" >部门05</text>
<line x1="573.7" y1="810.3" x2="752" y2="810.3" stroke="#4a5270" stroke-width="0.9"/>
<text x="593.80" y="820.20" font-size="7.4" fill="#2a45a8" text-anchor="middle" font-weight="700" >部门</text>
<text x="631.20" y="820.20" font-size="7.4" fill="#2a45a8" text-anchor="middle" font-weight="700" >收入</text>
<text x="664.80" y="820.20" font-size="7.4" fill="#2a45a8" text-anchor="middle" font-weight="700" >成本</text>
<text x="698.20" y="820.20" font-size="7.4" fill="#2a45a8" text-anchor="middle" font-weight="700" >利润</text>
<text x="731.80" y="820.20" font-size="7.4" fill="#2a45a8" text-anchor="middle" font-weight="700" >利润率</text>
<line x1="573.7" y1="824.6" x2="752" y2="824.6" stroke="#6680dc" stroke-width="1.4"/>
<text x="593.80" y="833.90" font-size="7.4" fill="#444" text-anchor="middle" font-weight="400" >部门01</text>
<text x="631.20" y="833.90" font-size="7.4" fill="#444" text-anchor="middle" font-weight="400" >456</text>
<text x="664.80" y="833.90" font-size="7.4" fill="#444" text-anchor="middle" font-weight="400" >123</text>
<text x="698.20" y="833.90" font-size="7.4" fill="#444" text-anchor="middle" font-weight="400" >333</text>
<text x="731.80" y="833.90" font-size="7.4" fill="#444" text-anchor="middle" font-weight="400" >73%</text>
<line x1="573.7" y1="838.30" x2="752" y2="838.30" stroke="#e2e3e8" stroke-width="0.6" stroke-dasharray="1.5 1"/>
<text x="593.80" y="847.90" font-size="7.4" fill="#444" text-anchor="middle" font-weight="400" >部门02</text>
<text x="631.20" y="847.90" font-size="7.4" fill="#444" text-anchor="middle" font-weight="400" >789</text>
<text x="664.80" y="847.90" font-size="7.4" fill="#444" text-anchor="middle" font-weight="400" >321</text>
<text x="698.20" y="847.90" font-size="7.4" fill="#444" text-anchor="middle" font-weight="400" >468</text>
<text x="731.80" y="847.90" font-size="7.4" fill="#444" text-anchor="middle" font-weight="400" >59%</text>
<line x1="573.7" y1="852.30" x2="752" y2="852.30" stroke="#e2e3e8" stroke-width="0.6" stroke-dasharray="1.5 1"/>
<text x="593.80" y="861.90" font-size="7.4" fill="#444" text-anchor="middle" font-weight="400" >部门03</text>
<text x="631.20" y="861.90" font-size="7.4" fill="#444" text-anchor="middle" font-weight="400" >456</text>
<text x="664.80" y="861.90" font-size="7.4" fill="#444" text-anchor="middle" font-weight="400" >123</text>
<text x="698.20" y="861.90" font-size="7.4" fill="#444" text-anchor="middle" font-weight="400" >333</text>
<text x="731.80" y="861.90" font-size="7.4" fill="#444" text-anchor="middle" font-weight="400" >73%</text>
<line x1="573.7" y1="866.30" x2="752" y2="866.30" stroke="#e2e3e8" stroke-width="0.6" stroke-dasharray="1.5 1"/>
<text x="593.80" y="875.90" font-size="7.4" fill="#444" text-anchor="middle" font-weight="400" >部门04</text>
<text x="631.20" y="875.90" font-size="7.4" fill="#444" text-anchor="middle" font-weight="400" >789</text>
<text x="664.80" y="875.90" font-size="7.4" fill="#444" text-anchor="middle" font-weight="400" >456</text>
<text x="698.20" y="875.90" font-size="7.4" fill="#444" text-anchor="middle" font-weight="400" >468</text>
<text x="731.80" y="875.90" font-size="7.4" fill="#444" text-anchor="middle" font-weight="400" >59%</text>
<line x1="573.7" y1="880.30" x2="752" y2="880.30" stroke="#e2e3e8" stroke-width="0.6" stroke-dasharray="1.5 1"/>
<text x="593.80" y="889.90" font-size="7.4" fill="#444" text-anchor="middle" font-weight="400" >部门05</text>
<text x="631.20" y="889.90" font-size="7.4" fill="#444" text-anchor="middle" font-weight="400" >456</text>
<text x="664.80" y="889.90" font-size="7.4" fill="#444" text-anchor="middle" font-weight="400" >123</text>
<text x="698.20" y="889.90" font-size="7.4" fill="#444" text-anchor="middle" font-weight="400" >333</text>
<text x="731.80" y="889.90" font-size="7.4" fill="#444" text-anchor="middle" font-weight="400" >73%</text>
<circle cx="706" cy="913" r="0.7" fill="#eceef3"/>
<circle cx="713" cy="913" r="0.7" fill="#eceef3"/>
<circle cx="720" cy="913" r="0.7" fill="#eceef3"/>
<circle cx="727" cy="913" r="0.7" fill="#eceef3"/>
<circle cx="734" cy="913" r="0.7" fill="#eceef3"/>
<circle cx="741" cy="913" r="0.7" fill="#eceef3"/>
<circle cx="748" cy="913" r="0.7" fill="#eceef3"/>
<circle cx="755" cy="913" r="0.7" fill="#eceef3"/>
<circle cx="706" cy="920" r="0.7" fill="#eceef3"/>
<circle cx="713" cy="920" r="0.7" fill="#eceef3"/>
<circle cx="720" cy="920" r="0.7" fill="#eceef3"/>
<circle cx="727" cy="920" r="0.7" fill="#eceef3"/>
<circle cx="734" cy="920" r="0.7" fill="#eceef3"/>
<circle cx="741" cy="920" r="0.7" fill="#eceef3"/>
<circle cx="748" cy="920" r="0.7" fill="#eceef3"/>
<circle cx="755" cy="920" r="0.7" fill="#eceef3"/>
<circle cx="706" cy="927" r="0.7" fill="#eceef3"/>
<circle cx="713" cy="927" r="0.7" fill="#eceef3"/>
<circle cx="720" cy="927" r="0.7" fill="#eceef3"/>
<circle cx="727" cy="927" r="0.7" fill="#eceef3"/>
<circle cx="734" cy="927" r="0.7" fill="#eceef3"/>
<circle cx="741" cy="927" r="0.7" fill="#eceef3"/>
<circle cx="748" cy="927" r="0.7" fill="#eceef3"/>
<circle cx="755" cy="927" r="0.7" fill="#eceef3"/>
<circle cx="706" cy="934" r="0.7" fill="#eceef3"/>
<circle cx="713" cy="934" r="0.7" fill="#eceef3"/>
<circle cx="720" cy="934" r="0.7" fill="#eceef3"/>
<circle cx="727" cy="934" r="0.7" fill="#eceef3"/>
<circle cx="734" cy="934" r="0.7" fill="#eceef3"/>
<circle cx="741" cy="934" r="0.7" fill="#eceef3"/>
<circle cx="748" cy="934" r="0.7" fill="#eceef3"/>
<circle cx="755" cy="934" r="0.7" fill="#eceef3"/>
<circle cx="706" cy="941" r="0.7" fill="#eceef3"/>
<circle cx="713" cy="941" r="0.7" fill="#eceef3"/>
<circle cx="720" cy="941" r="0.7" fill="#eceef3"/>
<circle cx="727" cy="941" r="0.7" fill="#eceef3"/>
<circle cx="734" cy="941" r="0.7" fill="#eceef3"/>
<circle cx="741" cy="941" r="0.7" fill="#eceef3"/>
<circle cx="748" cy="941" r="0.7" fill="#eceef3"/>
<circle cx="755" cy="941" r="0.7" fill="#eceef3"/>
<circle cx="706" cy="948" r="0.7" fill="#eceef3"/>
<circle cx="713" cy="948" r="0.7" fill="#eceef3"/>
<circle cx="720" cy="948" r="0.7" fill="#eceef3"/>
<circle cx="727" cy="948" r="0.7" fill="#eceef3"/>
<circle cx="734" cy="948" r="0.7" fill="#eceef3"/>
<circle cx="741" cy="948" r="0.7" fill="#eceef3"/>
<circle cx="748" cy="948" r="0.7" fill="#eceef3"/>
<circle cx="755" cy="948" r="0.7" fill="#eceef3"/>
<path d="M584.10,997.00 A75.2,75.2 0 0 1 598.46,952.80 L612.94,963.32 A57.3,57.3 0 0 0 602.00,997.00Z" fill="#c6d1f5" />
<path d="M598.46,952.80 A75.2,75.2 0 0 1 636.06,925.48 L641.59,942.50 A57.3,57.3 0 0 0 612.94,963.32Z" fill="#8ea4ea" />
<path d="M636.06,925.48 A75.2,75.2 0 0 1 682.54,925.48 L677.01,942.50 A57.3,57.3 0 0 0 641.59,942.50Z" fill="#5b79de" />
<path d="M682.54,925.48 A75.2,75.2 0 0 1 720.14,952.80 L705.66,963.32 A57.3,57.3 0 0 0 677.01,942.50Z" fill="#2847c0" />
<path d="M720.14,952.80 A75.2,75.2 0 0 1 734.50,997.00 L716.60,997.00 A57.3,57.3 0 0 0 705.66,963.32Z" fill="#1b3592" />
<ellipse cx="659.1" cy="1005.1999999999999" rx="43.75" ry="5" fill="#c3c7d4" filter="url(#blur1)" opacity="0.7"/>
<ellipse cx="659.1" cy="1003.8" rx="45.1" ry="5" fill="url(#gplat)"/>
<path d="M614.0,1003.8 A45.1,5 0 0 0 704.2,1003.8" stroke="#c6c9d6" stroke-width="0.7" fill="none"/>
<path d="M692.29,948.09 L671.46,975.04 L675.10,977.50Z" fill="#2442b5"/>
<text x="659.10" y="990.80" font-size="16.8" fill="#3d58b8" text-anchor="middle" font-weight="700" >67.18%</text>
<text x="657.00" y="1002.40" font-size="7.1" fill="#666" text-anchor="middle" font-weight="400" >目标完成率</text></svg>
</body></html>
